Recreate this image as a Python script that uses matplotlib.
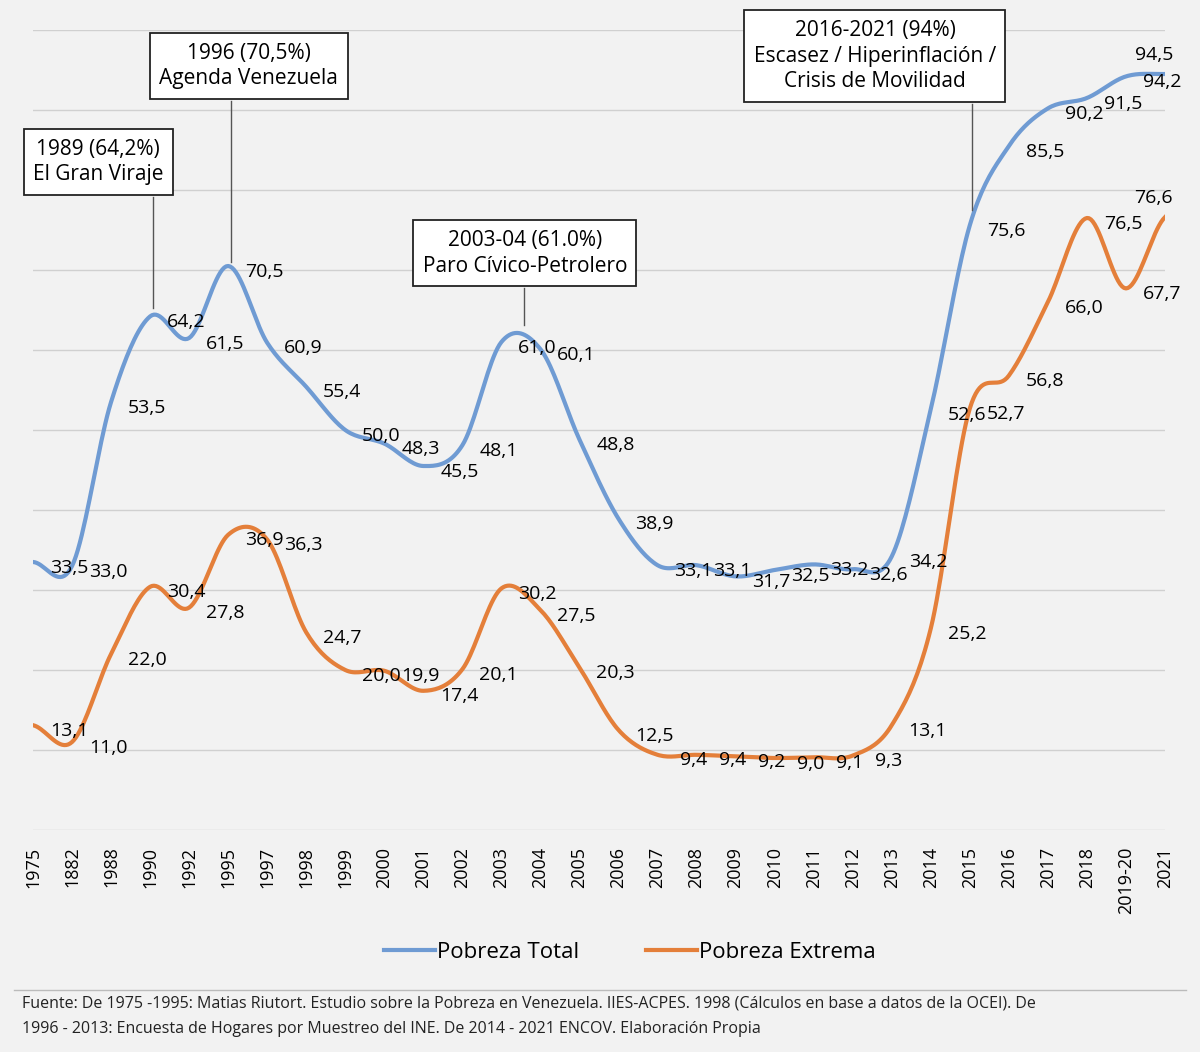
import numpy as np
import matplotlib.pyplot as plt

anios = ['1975', '1882', '1988', '1990', '1992', '1995', '1997', '1998', '1999', '2000',
         '2001', '2002', '2003', '2004', '2005', '2006', '2007', '2008', '2009', '2010',
         '2011', '2012', '2013', '2014', '2015', '2016', '2017', '2018', '2019-20', '2021']
pobreza_total = [33.5, 33.0, 53.5, 64.2, 61.5, 70.5, 60.9, 55.4, 50.0, 48.3,
                 45.5, 48.1, 61.0, 60.1, 48.8, 38.9, 33.1, 33.1, 31.7, 32.5,
                 33.2, 32.6, 34.2, 52.6, 75.6, 85.5, 90.2, 91.5, 94.2, 94.5]
pobreza_extrema = [13.1, 11.0, 22.0, 30.4, 27.8, 36.9, 36.3, 24.7, 20.0, 19.9,
                   17.4, 20.1, 30.2, 27.5, 20.3, 12.5, 9.4, 9.4, 9.2, 9.0,
                   9.1, 9.3, 13.1, 25.2, 52.7, 56.8, 66.0, 76.5, 67.7, 76.6]

AZUL = '#6f9bd3'
NARANJA = '#e47f3a'
FUENTE = 'Open Sans'


def suavizar(y, n=20):
    # trazo suave tipo Excel (Catmull-Rom)
    y = np.asarray(y, float)
    p = np.concatenate([[y[0]], y, [y[-1]]])
    xs, ys = [], []
    for i in range(len(y) - 1):
        p0, p1, p2, p3 = p[i], p[i + 1], p[i + 2], p[i + 3]
        t = np.linspace(0, 1, n, endpoint=False)
        v = 0.5 * ((2 * p1) + (-p0 + p2) * t + (2 * p0 - 5 * p1 + 4 * p2 - p3) * t ** 2
                   + (-p0 + 3 * p1 - 3 * p2 + p3) * t ** 3)
        xs.extend(i + t)
        ys.extend(v)
    xs.append(len(y) - 1)
    ys.append(y[-1])
    return xs, ys


fig = plt.figure(figsize=(12, 10.52), dpi=100, facecolor='#f2f2f2')
ax = fig.add_axes([33 / 1200, 1 - 830 / 1052, 1132 / 1200, 800 / 1052])
ax.set_facecolor('#f2f2f2')
x = np.arange(len(anios))

xs, ys = suavizar(pobreza_total)
ax.plot(xs, ys, color=AZUL, lw=3, label='Pobreza Total')
xs, ys = suavizar(pobreza_extrema)
ax.plot(xs, ys, color=NARANJA, lw=3, label='Pobreza Extrema')

n = len(anios)
for serie in (pobreza_total, pobreza_extrema):
    for i, v in enumerate(serie):
        off = (26, -4) if i < n - 1 else (-8, 14)
        ax.annotate(f'{v:.1f}'.replace('.', ','), (i, v), xytext=off, textcoords='offset points',
                    ha='center', va='center', fontsize=14, family=FUENTE, annotation_clip=False)

ax.set_xlim(0, n - 1)
ax.set_ylim(0, 100)
ax.set_yticks(np.arange(0, 101, 10))
ax.set_yticklabels([])
ax.grid(axis='y', color='#d0d0d0', lw=1)
ax.set_xticks(x)
ax.set_xticklabels(anios, rotation=90, fontsize=13, family=FUENTE)
ax.tick_params(length=0, pad=12)
for s in ax.spines.values():
    s.set_visible(False)

# cajas de anotacion: (x linea, y punto, y base caja, x caja, y caja, texto)
cajas = [
    (3.07, 65.2, 79.1, 1.67, 83.5, '1989 (64,2%)\nEl Gran Viraje'),
    (5.07, 71.0, 91.1, 5.53, 95.5, '1996 (70,5%)\nAgenda Venezuela'),
    (12.58, 63.1, 67.7, 12.6, 72.1, '2003-04 (61.0%)\nParo Cívico-Petrolero'),
    (24.06, 77.5, 90.7, 21.57, 96.75, '2016-2021 (94%)\nEscasez / Hiperinflación /\nCrisis de Movilidad'),
]
for lx, py, yb, bx, by, texto in cajas:
    ax.plot([lx, lx], [py, yb], color='#555555', lw=1, clip_on=False)
    ax.text(bx, by, texto, ha='center', va='center', fontsize=15, family=FUENTE, linespacing=1.3,
            bbox=dict(boxstyle='square,pad=0.45', fc='white', ec='#222222', lw=1.3), zorder=5)

fig.legend(loc='center', bbox_to_anchor=(630 / 1200, 1 - 952 / 1052), ncol=2, frameon=False,
           prop={'family': FUENTE, 'size': 16}, handlelength=2.3, columnspacing=3,
           handletextpad=0.1)

fig.add_artist(plt.Line2D([0.012, 0.988], [1 - 990 / 1052] * 2, color='#bbbbbb', lw=1))
fig.text(22 / 1200, 1 - 996 / 1052,
         'Fuente: De 1975 -1995: Matias Riutort. Estudio sobre la Pobreza en Venezuela. IIES-ACPES. 1998 (Cálculos en base a datos de la OCEI). De\n'
         '1996 - 2013: Encuesta de Hogares por Muestreo del INE. De 2014 - 2021 ENCOV. Elaboración Propia',
         ha='left', va='top', fontsize=11.5, family=FUENTE, linespacing=1.75, color='#222222')

fig.savefig('out.png', dpi=100, facecolor=fig.get_facecolor())
